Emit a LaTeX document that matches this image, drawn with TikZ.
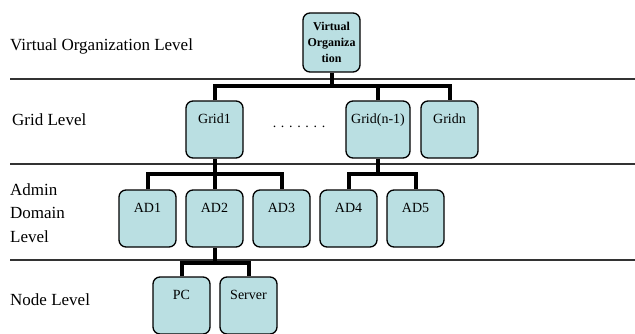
\documentclass[tikz,border=0pt]{standalone}
\usepackage{fontspec}
\setmainfont{Liberation Serif}
\usetikzlibrary{positioning}
\definecolor{boxfill}{RGB}{186,223,226}

\begin{document}
\begin{tikzpicture}[x=1pt,y=-1pt,node distance=67pt,
  box/.style={draw,line width=1.3pt,rounded corners=7pt,fill=boxfill,minimum width=57pt,inner xsep=1pt,inner ysep=4pt,text height=18pt,text depth=31pt,font=\fontsize{14}{16}\selectfont},
  vobox/.style={draw,line width=1.3pt,rounded corners=7pt,fill=boxfill,minimum width=57pt,minimum height=59pt,inner sep=1pt,align=center,font=\bfseries\fontsize{12}{16}\selectfont},
  lvl/.style={anchor=base west,inner sep=0pt,font=\fontsize{17}{23.5}\selectfont},
  bus/.style={line width=4pt},
  sep/.style={line width=1.8pt,black!80}]

\useasboundingbox (0,0) rectangle (635,333);

\draw[sep] (10,79) -- (635,79);
\draw[sep] (10,164) -- (635,164);
\draw[sep] (10,260) -- (635,260);

\node[lvl]   (lvo)   at (10,50)  {Virtual Organization Level};
\node[lvl]   (lgrid) at (12,125) {Grid Level};
\node[lvl,anchor=west,align=left] (ladm) at (10,213) {Admin\\Domain\\Level};
\node[lvl]   (lnode) at (10,305) {Node Level};

\node[vobox] (vo)  at (331.5,42.5) {Virtual\\Organiza\\tion};

\node[box]   (g1)  at (214.5,129.5) {Grid1};
\node[inner sep=0pt,font=\fontsize{14}{16}\selectfont] (dots) at (299,127) {.\,\,.\,\,.\,\,.\,\,.\,\,.\,\,.};
\node[box,minimum width=64pt] (gm)  at (378,129.5) {Grid(n-1)};
\node[box]   (gn)  at (449.5,129.5) {Gridn};

\node[box]   (ad1) at (147.5,218.5) {AD1};
\node[box]   (ad2) [right of=ad1] {AD2};
\node[box]   (ad3) [right of=ad2] {AD3};
\node[box]   (ad4) [right of=ad3] {AD4};
\node[box]   (ad5) [right of=ad4] {AD5};

\node[box]   (pc)  at (181.5,305.5) {PC};
\node[box]   (srv) [right of=pc] {Server};

\draw[bus] (vo.south) -- ++(0,15);
\draw[bus] (g1.north) -- ++(0,-14) -| (gn.north);
\draw[bus] (gm.north) -- ++(0,-14);

\draw[bus] (g1.south) -- (ad2.north);
\draw[bus] (ad1.north) -- ++(0,-15) -| (ad3.north);
\draw[bus] (gm.south) -- ++(0,16);
\draw[bus] (ad4.north) -- ++(0,-15) -| (ad5.north);

\draw[bus] (ad2.south) -- ++(0,16);
\draw[bus] (pc.north) -- ++(0,-13) -| (srv.north);
\end{tikzpicture}
\end{document}
